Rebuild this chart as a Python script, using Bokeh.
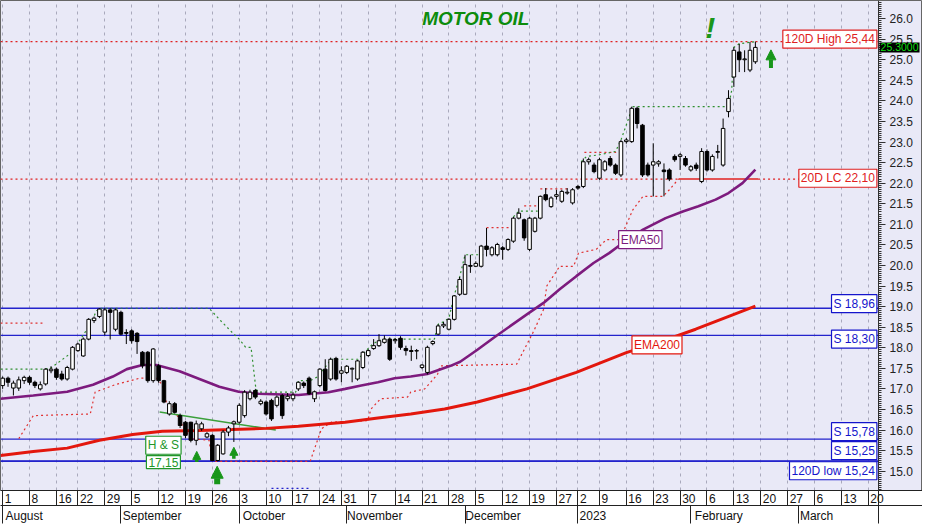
from bokeh.plotting import figure
from bokeh.models import (Range1d, FixedTicker, SingleIntervalTicker, LinearAxis, Label,
                          Arrow, NormalHead, PrintfTickFormatter, Grid)
from bokeh.embed import file_html
from bokeh.resources import INLINE

# ---------------- data ----------------
opens = [17.08, 17.26, 17.02, 17.02, 17.20, 17.28, 17.16, 17.00, 17.12, 17.44,
         17.48, 17.36, 17.24, 17.48, 17.93, 17.80, 18.21, 18.66, 18.76, 18.38,
         18.92, 18.45, 18.86, 18.37, 18.41, 18.35, 17.89, 17.89, 17.20, 17.56,
         17.20, 16.39, 16.64, 16.35, 16.19, 16.19, 15.75, 16.03, 15.83, 15.87,
         15.26, 15.42, 15.95, 16.15, 16.19, 16.35, 16.76, 16.96, 16.64, 16.68,
         16.72, 16.60, 16.84, 16.76, 16.76, 17.00, 17.14, 17.26, 16.76, 17.08,
         17.48, 17.24, 17.74, 17.38, 17.40, 17.48, 17.24, 17.52, 17.81, 17.98,
         18.05, 18.13, 18.21, 18.17, 18.23, 17.98, 17.93, 17.92, 17.52, 17.40,
         18.10, 18.33, 18.53, 18.45, 18.69, 19.30, 19.30, 20.00, 19.98, 19.98,
         20.47, 20.26, 20.26, 20.43, 20.39, 20.59, 21.15, 21.11, 20.39, 20.83,
         21.15, 21.72, 21.43, 21.68, 21.56, 21.76, 21.52, 21.92, 21.92, 22.52,
         22.44, 22.12, 22.32, 22.60, 22.44, 22.20, 23.01, 23.01, 23.82, 23.41,
         22.44, 22.44, 22.47, 22.32, 22.32, 22.65, 22.65, 22.60, 22.32, 22.44,
         22.04, 22.77, 22.32, 22.75, 22.44, 23.74, 24.58, 25.19, 25.00, 24.75,
         24.95]
highs = [17.30, 17.30, 17.20, 17.30, 17.32, 17.32, 17.20, 17.18, 17.50, 17.55,
         17.52, 17.44, 17.56, 18.04, 18.12, 18.25, 18.72, 18.76, 18.96, 18.96,
         18.96, 18.95, 18.90, 18.45, 18.45, 18.38, 17.92, 17.92, 17.99, 17.60,
         17.22, 16.70, 16.68, 16.40, 16.22, 16.20, 16.23, 16.20, 15.95, 15.90,
         15.66, 16.00, 16.10, 16.23, 16.65, 16.97, 16.98, 17.00, 16.75, 16.72,
         16.76, 16.84, 16.88, 16.90, 16.92, 17.18, 17.18, 17.30, 16.96, 17.50,
         17.72, 17.76, 17.78, 17.55, 17.58, 17.52, 17.70, 17.92, 17.96, 18.21,
         18.33, 18.30, 18.25, 18.24, 18.28, 18.05, 18.05, 17.97, 17.60, 18.05,
         18.18, 18.57, 18.63, 18.72, 19.28, 19.72, 20.26, 20.26, 20.10, 20.50,
         20.91, 20.47, 20.55, 20.47, 20.66, 21.18, 21.39, 21.14, 21.18, 21.18,
         21.70, 21.88, 21.68, 21.84, 21.84, 21.88, 21.88, 21.96, 22.60, 22.62,
         22.50, 22.62, 22.56, 22.66, 22.48, 23.05, 23.10, 23.86, 23.86, 23.44,
         22.50, 22.97, 22.56, 22.48, 22.36, 22.70, 22.73, 22.66, 22.44, 22.50,
         22.85, 22.82, 22.70, 22.93, 23.57, 24.26, 25.30, 25.39, 25.23, 25.43,
         25.44]
lows = [17.00, 17.05, 16.84, 16.95, 17.12, 17.10, 17.02, 16.96, 17.08, 17.38,
        17.22, 17.20, 17.20, 17.45, 17.90, 17.78, 18.18, 18.60, 18.72, 18.30,
        18.20, 18.40, 18.30, 18.09, 18.10, 17.85, 17.50, 17.15, 17.15, 17.15,
        16.65, 16.35, 16.40, 16.05, 15.80, 15.70, 15.63, 15.98, 15.80, 15.24,
        15.24, 15.40, 15.85, 15.71, 16.15, 16.30, 16.72, 16.75, 16.60, 16.35,
        16.22, 16.55, 16.27, 16.70, 16.70, 16.95, 17.02, 16.85, 16.68, 17.04,
        16.94, 17.20, 17.20, 17.16, 17.36, 17.16, 17.20, 17.48, 17.78, 17.95,
        18.02, 18.10, 17.68, 18.10, 17.95, 17.81, 17.68, 17.72, 17.48, 17.35,
        18.06, 18.30, 18.48, 18.42, 18.66, 19.26, 19.28, 19.82, 19.96, 19.95,
        20.22, 20.22, 20.22, 20.14, 20.35, 20.55, 21.12, 20.60, 20.35, 20.80,
        21.12, 21.56, 21.40, 21.60, 21.52, 21.72, 21.48, 21.84, 21.88, 22.45,
        22.24, 22.08, 22.28, 22.40, 22.20, 22.15, 22.96, 22.98, 23.33, 22.15,
        22.16, 21.68, 22.40, 21.68, 22.05, 22.52, 22.32, 22.40, 22.28, 22.30,
        22.00, 22.28, 22.28, 22.60, 22.40, 23.60, 24.34, 24.70, 24.70, 24.70,
        24.90]
closes = [17.26, 17.16, 17.14, 17.22, 17.28, 17.16, 17.08, 17.10, 17.48, 17.48,
          17.28, 17.24, 17.52, 18.01, 18.09, 18.21, 18.69, 18.72, 18.94, 18.92,
          18.86, 18.92, 18.33, 18.35, 18.17, 18.15, 17.56, 17.20, 17.97, 17.20,
          16.68, 16.64, 16.43, 16.11, 15.87, 15.75, 16.15, 16.15, 15.91, 15.26,
          15.63, 15.95, 16.05, 16.20, 16.60, 16.92, 16.92, 16.80, 16.70, 16.39,
          16.27, 16.80, 16.35, 16.82, 16.85, 17.16, 17.08, 16.88, 16.93, 17.48,
          16.96, 17.72, 17.24, 17.44, 17.55, 17.50, 17.68, 17.89, 17.93, 18.05,
          18.17, 18.21, 17.72, 18.20, 18.01, 17.93, 17.91, 17.93, 17.58, 18.01,
          18.15, 18.53, 18.57, 18.69, 19.26, 19.66, 20.02, 19.98, 20.05, 20.47,
          20.39, 20.43, 20.51, 20.39, 20.63, 21.15, 21.27, 20.67, 21.15, 21.15,
          21.68, 21.60, 21.64, 21.72, 21.80, 21.78, 21.84, 21.88, 22.52, 22.57,
          22.28, 22.57, 22.52, 22.44, 22.24, 23.01, 23.05, 23.82, 23.45, 22.20,
          22.20, 22.52, 22.52, 22.28, 22.10, 22.57, 22.69, 22.44, 22.40, 22.36,
          22.77, 22.32, 22.65, 22.77, 23.33, 24.06, 25.23, 25.00, 25.02, 25.23,
          25.30]

# moving averages (trading-day index, value)
ema50_x = [-0.4, 5.7, 12, 16.8, 20.5, 23.1, 26, 28.6, 32.9, 36.6, 40.3, 43.9, 47.6, 55,
           60.6, 63.7, 66.7, 69.8, 72.9, 75.9, 79, 83.3, 85.1, 88.3, 91.4, 97.5, 100.6,
           103.6, 106.7, 109.9, 112.8, 115.4, 119.1, 123.3, 126.5, 129.4, 132.6, 135,
           137.6, 140]
ema50_y = [16.76, 16.84, 16.93, 17.10, 17.30, 17.48, 17.58, 17.58, 17.43, 17.24, 17.05,
           16.93, 16.88, 16.85, 16.92, 17.00, 17.08, 17.16, 17.26, 17.30, 17.36, 17.56,
           17.66, 17.95, 18.25, 18.81, 19.09, 19.42, 19.74, 20.06, 20.30, 20.55, 20.87,
           21.15, 21.31, 21.44, 21.60, 21.76, 22.00, 22.33]
ema200_x = [-0.4, 5.7, 12, 18, 24.2, 29.7, 36.6, 42.7, 49, 55, 63.7, 69.8, 75.9, 82.2,
            88.3, 97.5, 106.7, 116, 121.7, 128.9, 140]
ema200_y = [15.38, 15.48, 15.56, 15.75, 15.89, 15.97, 15.99, 16.01, 16.04, 16.09, 16.19,
            16.29, 16.39, 16.51, 16.68, 17.00, 17.40, 17.88, 18.12, 18.45, 19.01]

# trailing 20-day channel lines (dotted)
low_ch_x = [3, 5.7, 16.3, 17.2, 20.9, 25.5, 28.6, 29.7, 30.5, 31.6, 32.9, 33.8, 35, 38.4,
            39, 57.2, 59.3, 61.1, 67.9, 68.5, 70.3, 75.3, 75.9, 78.5, 79.6, 80.9, 81.4,
            95.6, 98.8, 100.6, 101.2, 103.6, 106.2, 107.1, 110.4, 112.3, 115, 115.6,
            117.2, 119.1, 122.8, 124, 125.7]
low_ch_y = [15.79, 16.35, 16.39, 16.92, 17.10, 17.26, 17.26, 17.10, 16.64, 16.60, 16.23,
            16.03, 15.79, 15.75, 15.24, 15.24, 16.03, 16.19, 16.23, 16.51, 16.76, 16.80,
            16.92, 17.00, 17.16, 17.36, 17.56, 17.60, 18.41, 18.93, 19.50, 19.98, 19.98,
            20.30, 20.39, 20.63, 20.63, 20.87, 21.35, 21.68, 21.68, 21.84, 22.10]
high_ch_x = [-0.4, 7.6, 8.9, 12.9, 15.7, 17.5, 18.1, 38.4, 40.3, 42.7, 44, 45.2, 46.2, 47.1,
             47.6, 54.5, 55, 57.2, 58.7, 61.1, 66.1, 67.6, 68.5, 69.8, 71.1, 80.3, 81, 82,
             83, 84, 85, 86, 89.5]
high_ch_y = [17.48, 17.48, 17.50, 17.89, 18.45, 18.90, 18.96, 18.96, 18.69, 18.37, 18.21,
             18.01, 18.01, 17.00, 16.92, 16.92, 17.20, 17.20, 17.30, 17.72, 17.72, 17.93,
             18.05, 18.17, 18.21, 18.21, 18.57, 18.63, 18.72, 19.28, 19.72, 20.26, 20.26]
high_ch2_x = [95, 96, 99.5]
high_ch2_y = [21.18, 21.32, 21.32]
high_ch3_x = [107.6, 108.6, 111, 114, 115, 117.2, 135, 135.6, 136, 137, 140]
high_ch3_y = [22.52, 22.65, 22.69, 22.77, 23.05, 23.86, 23.86, 24.26, 25.30, 25.39, 25.44]
res_x0 = [-0.4, 90, 97, 100, 108.2]
res_x1 = [7.4, 94.3, 99.7, 105.5, 114.1]
res_y = [18.60, 20.92, 21.45, 21.86, 22.75]
blue_dot_x = [50, 57]
blue_dot_y = [14.58, 14.58]

# horizontal levels
high120 = 25.44
lc20 = 22.10
last_close = 25.30
support_levels = [18.96, 18.30, 15.78, 15.25, 15.24]
support_texts = ["S 18,96", "S 18,30", "S 15,78", "S 15,25", "120D low 15,24"]
neck_x = [29.2, 50.8]
neck_y = [16.44, 16.00]

# axis ticks
week_idx = [0, 5, 10, 14, 19, 24, 29, 34, 39, 44, 49, 54, 59, 63, 68, 73, 78, 83, 88, 93,
            98, 103, 107, 111, 116, 121, 126, 131, 136, 141, 146, 151, 156, 161]
week_labels = ["1", "8", "16", "22", "29", "5", "12", "19", "26", "3", "10", "17", "24",
               "31", "7", "14", "21", "28", "5", "12", "19", "27", "2", "9", "16", "23",
               "30", "6", "13", "20", "27", "6", "13", "20"]
month_idx = [0, 22, 44, 64, 86, 107, 128, 148]
month_labels = ["August", "September", "October", "November", "December", "2023",
                "February", "March"]

# ---------------- figure ----------------
X0, X1 = -0.4, 162.9          # chart area; price scale sits at X1
CHART_W = 878
PX = CHART_W / (X1 - X0)
FW = 922
X2 = X0 + FW / PX             # frame also holds the price-scale column
FONT = "Liberation Sans"
BG = "#E9E9F7"

p = figure(frame_width=FW, frame_height=490, x_range=Range1d(X0, X2),
           y_range=Range1d(14.53, 26.44), output_backend="svg", toolbar_location=None,
           x_axis_location=None, y_axis_location="right", min_border_left=0,
           min_border_right=0, min_border_top=0, min_border_bottom=0,
           background_fill_color=BG, border_fill_color=BG, outline_line_color="#666666")

# grid: weekly dashed verticals only
p.ygrid.visible = False
p.xgrid.visible = False
p.add_layout(Grid(dimension=0, ticker=FixedTicker(ticks=week_idx), grid_line_color="#A9A9BC",
                  grid_line_dash="3 4", grid_line_width=1))

# right price axis, drawn at the chart's right edge
ya = p.yaxis[0]
ya.fixed_location = X1
ya.ticker = SingleIntervalTicker(interval=0.5, num_minor_ticks=10)
ya.formatter = PrintfTickFormatter(format="%.1f")
ya.major_tick_out = 7
ya.major_tick_in = 0
ya.minor_tick_out = 3
ya.minor_tick_in = 0
ya.axis_line_color = "#333333"
ya.major_tick_line_color = "#333333"
ya.minor_tick_line_color = "#333333"
ya.major_label_standoff = 4
ya.major_label_text_font = FONT
ya.major_label_text_font_size = "12px"
ya.major_label_text_color = "#222222"

# bottom axes: day numbers and month names, in boxes
def label_pos(starts, labels, cw):
    return [round(s + (2 + cw * len(t) / 2.0) / PX, 3) for s, t in zip(starts, labels)]

day_pos = label_pos(week_idx, week_labels, 6.7)
month_pos = label_pos(month_idx, month_labels, 6.5)
da = LinearAxis(ticker=FixedTicker(ticks=day_pos, minor_ticks=week_idx + [X1]),
                major_label_overrides={d: t for d, t in zip(day_pos, week_labels)})
ma = LinearAxis(ticker=FixedTicker(ticks=month_pos, minor_ticks=month_idx + [X1]),
                major_label_overrides={d: t for d, t in zip(month_pos, month_labels)})
for ax in (da, ma):
    ax.axis_line_color = "#222222"
    ax.major_tick_out = 0
    ax.major_tick_in = 0
    ax.minor_tick_out = 18
    ax.minor_tick_in = 0
    ax.minor_tick_line_color = "#222222"
    ax.minor_tick_line_width = 1
    ax.major_label_standoff = -15
    ax.major_label_text_font = FONT
    ax.major_label_text_font_size = "12px"
    ax.major_label_text_color = "#111111"
    ax.background_fill_color = "white"
    p.add_layout(ax, "below")

# ---------------- levels ----------------
n_sup = len(support_levels)
p.segment(x0=[X0] * n_sup, y0=support_levels, x1=[X1] * n_sup, y1=support_levels,
          line_color="#2323CC", line_width=1.3)
p.segment(x0=[X0], y0=[high120], x1=[X1], y1=[high120], line_color="#E02020",
          line_width=1.2, line_dash="2 3")
p.segment(x0=[X0, 140.5], y0=[lc20, lc20], x1=[125.7, X1], y1=[lc20, lc20],
          line_color="#E02020", line_width=1.2, line_dash="2 3")
p.segment(x0=[125.7], y0=[lc20], x1=[140.5], y1=[lc20], line_color="#E02020", line_width=1.6)

# channel lines
p.line(low_ch_x, low_ch_y, line_color="#E03030", line_width=1.2, line_dash="2 3")
p.segment(x0=res_x0, y0=res_y, x1=res_x1, y1=res_y, line_color="#E03030",
          line_width=1.2, line_dash="2 3")
for gx, gy in ((high_ch_x, high_ch_y), (high_ch2_x, high_ch2_y), (high_ch3_x, high_ch3_y)):
    p.line(gx, gy, line_color="#2F8F2F", line_width=1.2, line_dash="2 3")
p.line(blue_dot_x, blue_dot_y, line_color="#2323CC", line_width=1.2, line_dash="2 3")

# H&S neckline
p.line(neck_x, neck_y, line_color="#3BA03B", line_width=1.5)

# moving averages
p.line(ema200_x, ema200_y, line_color="#E3170D", line_width=3)
p.line(ema50_x, ema50_y, line_color="#7D1B7E", line_width=2.6)

# ---------------- candles ----------------
idx = list(range(len(closes)))
p.segment(x0=idx, y0=highs, x1=idx, y1=lows, line_color="black", line_width=1)
up = [i for i in idx if closes[i] >= opens[i]]
dn = [i for i in idx if closes[i] < opens[i]]
p.vbar(x=up, width=0.66, top=[closes[i] for i in up], bottom=[opens[i] for i in up],
       fill_color="white", line_color="black", line_width=1)
p.vbar(x=dn, width=0.66, top=[opens[i] for i in dn], bottom=[closes[i] for i in dn],
       fill_color="black", line_color="black", line_width=1)

# ---------------- annotations ----------------
def box(x, y, text, color, align="right", size="12px"):
    p.add_layout(Label(x=x, y=y, text=text, text_color=color, text_font=FONT,
                       text_font_size=size, text_align=align, text_baseline="middle",
                       background_fill_color="white", border_line_color=color,
                       border_line_width=1.2, padding=2))

box(162.6, 25.50, "120D High 25,44", "#E02020")
box(162.6, 22.12, "20D LC 22,10", "#E02020")
for lv, tx, yy in zip(support_levels, support_texts, [19.07, 18.21, 15.96, 15.50, 15.01]):
    box(162.6, yy, tx, "#1515CC")
box(118.6, 20.63, "EMA50", "#7D1B7E", align="center")
box(121.7, 18.07, "EMA200", "#E3170D", align="center")
box(29.9, 15.63, "H & S", "#22962A", align="center")
box(29.9, 15.22, "17,15", "#22962A", align="center")

p.add_layout(Label(x=88.0, y=26.0, text="MOTOR OIL", text_color="#0C8C0C", text_font=FONT,
                   text_font_size="19px", text_font_style="bold italic",
                   text_align="center", text_baseline="middle"))
p.add_layout(Label(x=131.6, y=25.78, text="!", text_color="#1A961A", text_font=FONT,
                   text_font_size="30px", text_font_style="bold italic",
                   text_align="center", text_baseline="middle"))
p.add_layout(Label(x=X1 + 0.2, y=last_close, text="25.3000", text_color="#11DD11",
                   text_font=FONT, text_font_size="10.5px", text_align="left",
                   text_baseline="middle", background_fill_color="black", padding=1,
                   level="overlay"))

GREEN = "#18961A"
arrows = [(36.1, 15.22, 15.48, 3.5, 8), (43.0, 15.30, 15.58, 3.5, 8),
          (39.9, 14.68, 15.12, 6, 12), (142.9, 24.80, 25.24, 4, 10)]
for ax_, y0, y1, lw, hs in arrows:
    p.add_layout(Arrow(x_start=ax_, y_start=y0, x_end=ax_, y_end=y1, line_color=GREEN,
                       line_width=lw,
                       end=NormalHead(size=hs, fill_color=GREEN, line_color=GREEN)))

open("out.html", "w").write(file_html(p, INLINE))
